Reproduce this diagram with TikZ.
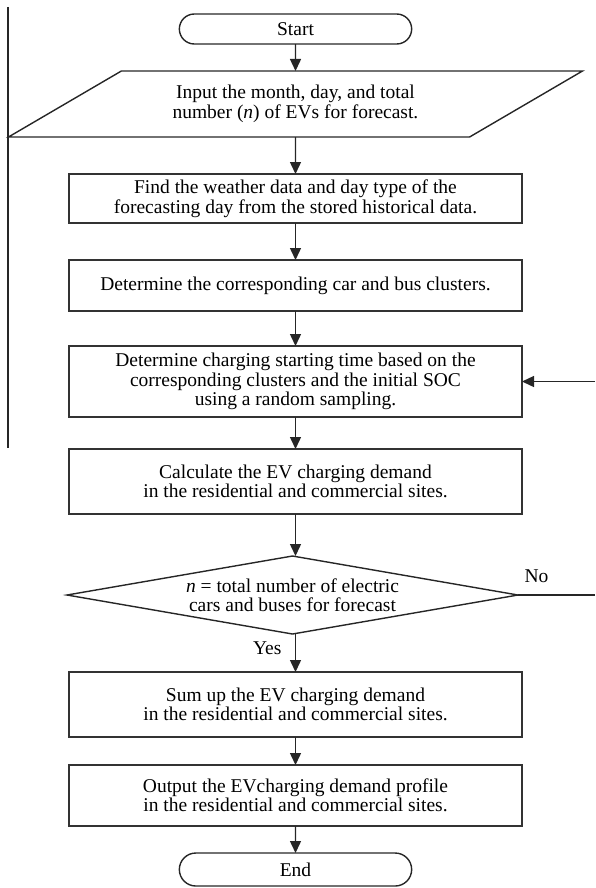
\documentclass[tikz,border=0pt]{standalone}
\usepackage{fontspec}
\setmainfont{Liberation Serif}
\usetikzlibrary{arrows.meta,calc,positioning,shapes.geometric,shapes.misc}
\tikzset{
  txt/.style={font=\fontsize{19.5}{19.5}\selectfont},
  signal/.style={->, line width=1.4pt, draw=black!85, >={Triangle[length=12pt,width=11pt]}},
  flow/.style={line width=1.4pt, draw=black!85},
  block/.style={txt, draw=black!80, line width=1.5pt, outer sep=0pt, rectangle, minimum width=453pt, align=center},
  terminal/.style={txt, draw=black!85, line width=1.4pt, outer sep=0pt, rounded rectangle, minimum width=239pt, minimum height=30pt},
  inbox/.style={txt, draw=black!85, line width=1.4pt, outer sep=0pt, trapezium, trapezium left angle=30, trapezium right angle=150,
    trapezium stretches body, inner ysep=14pt, minimum width=574pt, minimum height=66pt, align=center},
  decision/.style={txt, draw=black!85, line width=1.4pt, outer sep=0pt, diamond, aspect=5.8, inner sep=0pt,
    minimum width=451pt, minimum height=78pt, align=center},
  note/.style={txt}
}
\begin{document}
\begin{tikzpicture}[x=1pt, y=1pt, node distance=37pt]
  \useasboundingbox (0,0) rectangle (595,-888);
  \node[terminal] (start) at (295.5,-29) {Start};
  \node[inbox, below=27pt of start] (input) {Input the month, day, and total\\number (\textit{n}) of EVs for forecast.};
  \node[block, minimum height=49pt, below=of input] (find) {Find the weather data and day type of the\\forecasting day from the stored historical data.};
  \node[block, minimum height=51pt, below=of find] (clus) {Determine the corresponding car and bus clusters.};
  \node[block, minimum height=71pt, below=35pt of clus] (samp) {Determine charging starting time based on the\\corresponding clusters and the initial SOC\\using a random sampling.};
  \node[block, minimum height=65pt, below=32pt of samp] (calc) {Calculate the EV charging demand\\in the residential and commercial sites.};
  \node[decision, below=42pt of calc, xshift=-3pt] (check) {\textit{n} = total number of electric\\cars and buses for forecast};
  \node[block, minimum height=65pt, below=38pt of check, xshift=3pt] (sum) {Sum up the EV charging demand\\in the residential and commercial sites.};
  \node[block, minimum height=61pt, below=28pt of sum] (out) {Output the EVcharging demand profile\\in the residential and commercial sites.};
  \node[terminal, minimum height=33pt, below=27pt of out] (end) {End};
  \coordinate (redge) at (595,0);
  \coordinate (ltop) at (8,-7);
  \coordinate (lbot) at (8,-448);
  \draw[signal] (start) -- (input);
  \draw[signal] (input) -- (find);
  \draw[signal] (find) -- (clus);
  \draw[signal] (clus) -- (samp);
  \draw[signal] (samp) -- (calc);
  \draw[signal] (calc.south) -- (calc.south |- check.north);
  \draw[signal] (calc.south |- check.south) -- node[note, pos=0.37, left=10pt] {Yes} (sum.north);
  \draw[flow] (check.east) -- node[note, pos=0.24, above=8pt] {No} (check.east -| redge);
  \draw[signal] (samp -| redge) -- (samp.east);
  \draw[signal] (sum) -- (out);
  \draw[signal] (out) -- (end);
  \draw[flow] (ltop) -- (lbot);
\end{tikzpicture}
\end{document}
